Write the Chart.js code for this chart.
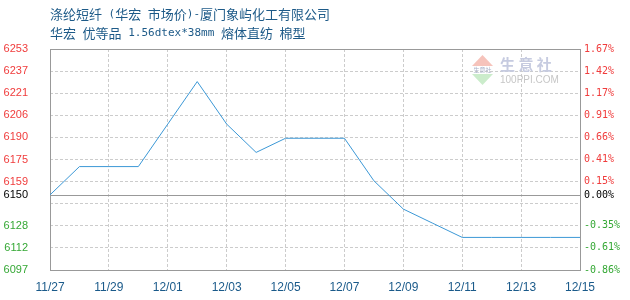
<!DOCTYPE html>
<html>
<head>
<meta charset="utf-8">
<script src="https://cdn.jsdelivr.net/npm/chart.js@4.4.0/dist/chart.umd.min.js"></script>
<style>
  body { margin: 0; background: #fff; }
</style>
</head>
<body>
<canvas id="priceChart" width="630" height="300"></canvas>
<script>
// data
const dates = ['11/27', '11/28', '11/29', '11/30', '12/01', '12/02', '12/03', '12/04', '12/05', '12/06',
               '12/07', '12/08', '12/09', '12/10', '12/11', '12/12', '12/13', '12/14', '12/15'];
const prices = [6150, 6170, 6170, 6170, 6200, 6230, 6200, 6180, 6190, 6190,
                6190, 6160, 6140, 6130, 6120, 6120, 6120, 6120, 6120];
const basePrice = 6150;
const yTicks = [6097, 6112.6, 6128.2, 6143.8, 6159.4, 6175, 6190.6, 6206.2, 6221.8, 6237.4, 6253];
const leftLabels = ['6097', '6112', '6128', '', '6159', '6175', '6190', '6206', '6221', '6237', '6253'];
const rightLabels = ['-0.86%', '-0.61%', '-0.35%', '', '0.15%', '0.41%', '0.66%', '0.91%', '1.17%', '1.42%', '1.67%'];
const baseLabels = ['6150', '0.00%'];
const titleParts1 = ['涤纶短纤', ' (', '华宏', ' ', '市场价', ')-', '厦门象屿化工有限公司'];
const titleParts2 = ['华宏', ' ', '优等品', ' 1.56dtex*38mm ', '熔体直纺', ' ', '棉型'];

const cjkFont = '13px "Noto Sans CJK SC"';
const monoFont = '11px "DejaVu Sans Mono"';
const titleColor = '#1d5a88';

function tickColor(c) {
    const v = c.tick ? c.tick.value : 0;
    if (v > basePrice) return '#f03c3c';
    if (v < basePrice) return '#35a835';
    return '#000';
}

function setTicks(scale) {
    scale.ticks = yTicks.concat([basePrice]).map(v => ({ value: v }));
}

function drawRun(ctx, parts, x, y) {
    parts.forEach(p => {
        ctx.font = /^[\x00-\x7f]+$/.test(p) ? monoFont : cjkFont;
        ctx.fillText(p, x, y);
        x += ctx.measureText(p).width;
    });
}

const decor = {
    id: 'decor',
    beforeDatasetsDraw(chart) {
        const { ctx, chartArea: a } = chart;
        const y = chart.scales.y;
        ctx.save();
        // watermark
        ctx.fillStyle = '#f6c3bb';
        ctx.beginPath();
        ctx.moveTo(482.5, 55); ctx.lineTo(493, 66); ctx.lineTo(472, 66); ctx.closePath(); ctx.fill();
        ctx.fillStyle = '#cbeccb';
        ctx.beginPath();
        ctx.moveTo(472, 74); ctx.lineTo(493, 74); ctx.lineTo(482.5, 85); ctx.closePath(); ctx.fill();
        ctx.textBaseline = 'middle';
        ctx.textAlign = 'center';
        ctx.fillStyle = '#a8b0c8';
        ctx.font = '6px "Noto Sans CJK SC"';
        ctx.fillText('生意社', 482.5, 70);
        ctx.textAlign = 'left';
        ctx.fillStyle = '#c6cbe0';
        ctx.font = 'bold 15px "Noto Sans CJK SC"';
        ctx.fillText('生 意 社', 500, 64);
        ctx.fillStyle = '#c6c6c6';
        ctx.font = '10px "Liberation Sans"';
        ctx.fillText('100PPI.COM', 500, 80);
        // frame and base line
        ctx.strokeStyle = '#999';
        ctx.lineWidth = 1;
        ctx.strokeRect(Math.round(a.left) + 0.5, Math.round(a.top) + 0.5,
                       Math.round(a.right - a.left), Math.round(a.bottom - a.top));
        const by = Math.round(y.getPixelForValue(basePrice)) + 0.5;
        ctx.beginPath();
        ctx.moveTo(a.left, by); ctx.lineTo(a.right, by); ctx.stroke();
        ctx.restore();
    },
    afterDraw(chart) {
        const ctx = chart.ctx;
        ctx.save();
        ctx.fillStyle = titleColor;
        ctx.textBaseline = 'middle';
        ctx.textAlign = 'left';
        drawRun(ctx, titleParts1, 50, 14);
        drawRun(ctx, titleParts2, 50, 33);
        ctx.restore();
    }
};

new Chart(document.getElementById('priceChart').getContext('2d'), {
    type: 'line',
    data: {
        labels: dates,
        datasets: [{
            data: prices,
            borderColor: '#3c98d6',
            borderWidth: 1,
            pointRadius: 0,
            fill: false,
            tension: 0
        }]
    },
    options: {
        responsive: false,
        animation: false,
        devicePixelRatio: 1,
        layout: { padding: { top: 49, left: 0, right: 0, bottom: 0 } },
        plugins: {
            legend: { display: false },
            tooltip: { enabled: false }
        },
        scales: {
            x: {
                offset: false,
                afterFit: s => { s.height = 30; },
                grid: {
                    drawTicks: false,
                    color: c => (c.index % 2 === 0 && c.index > 0 && c.index < dates.length - 1) ? '#cccccc' : 'rgba(0,0,0,0)'
                },
                border: { display: false, dash: [3, 2] },
                ticks: {
                    autoSkip: false,
                    maxRotation: 0,
                    padding: 10,
                    color: '#1a5a8a',
                    font: { family: 'Liberation Sans', size: 12 },
                    callback: (v, i) => i % 2 === 0 ? dates[i] : ''
                }
            },
            y: {
                min: yTicks[0],
                max: yTicks[yTicks.length - 1],
                afterBuildTicks: setTicks,
                afterFit: s => { s.width = 50; },
                grid: {
                    drawTicks: false,
                    color: c => (c.tick && (c.tick.value === basePrice || c.tick.value === yTicks[0] ||
                        c.tick.value === yTicks[yTicks.length - 1])) ? 'rgba(0,0,0,0)' : '#cccccc'
                },
                border: { display: false, dash: [3, 2] },
                ticks: {
                    autoSkip: false,
                    padding: 22,
                    color: tickColor,
                    font: { family: 'Liberation Sans', size: 11 },
                    callback: (v, i) => i < leftLabels.length ? leftLabels[i] : baseLabels[0]
                }
            },
            y2: {
                position: 'right',
                min: yTicks[0],
                max: yTicks[yTicks.length - 1],
                afterBuildTicks: setTicks,
                afterFit: s => { s.width = 50; },
                grid: { display: false, drawTicks: false },
                border: { display: false },
                ticks: {
                    autoSkip: false,
                    padding: 4,
                    color: tickColor,
                    font: { family: 'DejaVu Sans Mono', size: 10 },
                    callback: (v, i) => i < rightLabels.length ? rightLabels[i] : baseLabels[1]
                }
            }
        }
    },
    plugins: [decor]
});
</script>
</body>
</html>
